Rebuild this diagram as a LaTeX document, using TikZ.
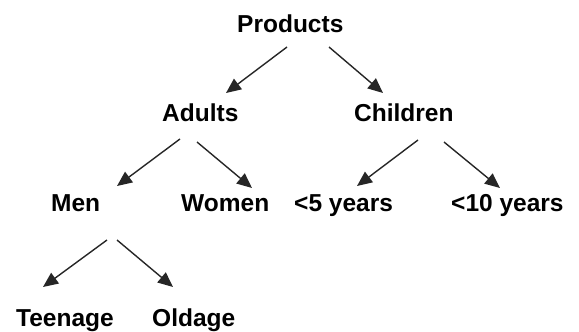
\documentclass[tikz,border=0pt]{standalone}
\usepackage{fontspec}
\setmainfont{Liberation Sans}
\usetikzlibrary{arrows.meta}
\begin{document}
\begin{tikzpicture}[x=1pt,y=-1pt,
  lbl/.style={anchor=base west,inner sep=0pt,font=\fontsize{24.5}{28}\selectfont\bfseries},
  arr/.style={line width=1.4pt,draw=black!85,-{Triangle[length=15pt,width=13pt]}}]
\useasboundingbox (0,0) rectangle (579,332);
\node[lbl] (P) at (237,32) {Products};
\node[lbl] (A) at (162,121) {Adults};
\node[lbl] (C) at (354,121) {Children};
\node[lbl] (M) at (51,211) {Men};
\node[lbl] (W) at (181,211) {Women};
\node[lbl] (F) at (294,211) {<5 years};
\node[lbl] (T) at (451,211) {<10 years};
\node[lbl] (Te) at (16,326) {Teenage};
\node[lbl] (O) at (152,326) {Oldage};
\draw[arr] ([shift={(50,15)}]P.base west) -- ([shift={(64,-28)}]A.base west);
\draw[arr] ([shift={(92,15)}]P.base west) -- ([shift={(29,-28)}]C.base west);
\draw[arr] ([shift={(18,18)}]A.base west) -- ([shift={(66,-25)}]M.base west);
\draw[arr] ([shift={(35,21)}]A.base west) -- ([shift={(71,-23)}]W.base west);
\draw[arr] ([shift={(64,19)}]C.base west) -- ([shift={(63,-25)}]F.base west);
\draw[arr] ([shift={(90,21)}]C.base west) -- ([shift={(49,-23)}]T.base west);
\draw[arr] ([shift={(56,29)}]M.base west) -- ([shift={(27,-39)}]Te.base west);
\draw[arr] ([shift={(66,29)}]M.base west) -- ([shift={(21,-39)}]O.base west);
\end{tikzpicture}
\end{document}
